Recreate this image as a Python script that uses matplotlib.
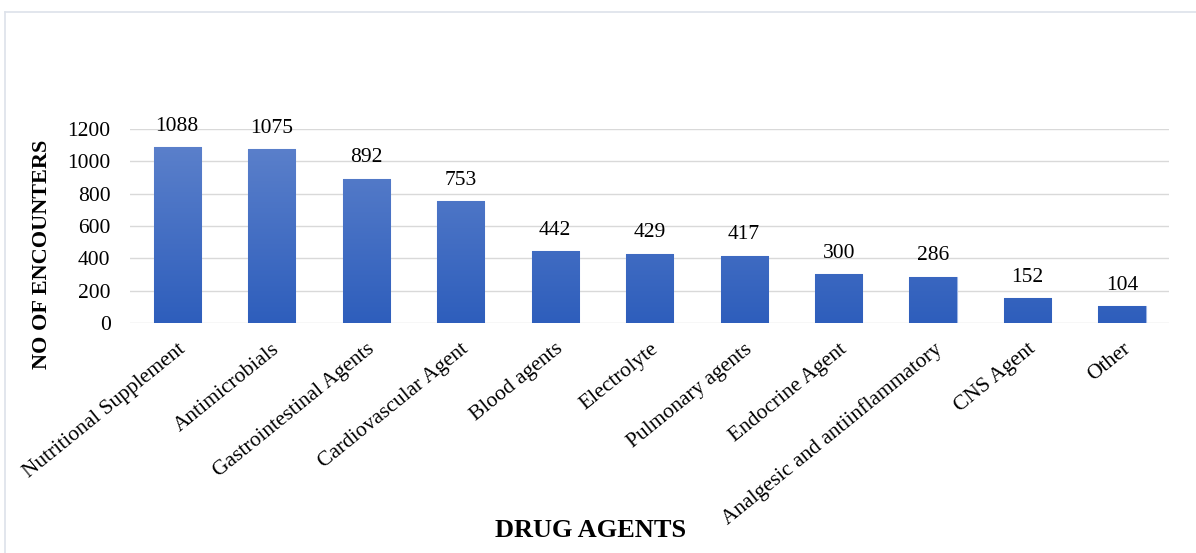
import numpy as np
import matplotlib.pyplot as plt
from matplotlib.colors import LinearSegmentedColormap
from matplotlib.lines import Line2D

categories = ['Nutritional Supplement', 'Antimicrobials', 'Gastrointestinal Agents',
              'Cardiovascular Agent', 'Blood agents', 'Electrolyte', 'Pulmonary agents',
              'Endocrine Agent', 'Analgesic and antiinflammatory', 'CNS Agent', 'Other']
values = [1088, 1075, 892, 753, 442, 429, 417, 300, 286, 152, 104]
yticks = [0, 200, 400, 600, 800, 1000, 1200]

plt.rcParams['font.family'] = ['Liberation Serif', 'DejaVu Serif']

fig = plt.figure(figsize=(11.96, 5.53), dpi=100)
ax = fig.add_axes([0.1087, 0.416, 0.869, 0.351])

x = np.arange(len(categories))
bars = ax.bar(x, values, width=0.5, color='#4472C4', edgecolor='#9DB5E3', linewidth=0.8, zorder=2)

# vertical gradient inside each bar
grad = np.linspace(0, 1, 256).reshape(-1, 1)
cmap = LinearSegmentedColormap.from_list('g', ['#2E5EBC', '#5F83CC'])
for b in bars:
    bx, by = b.get_x(), b.get_y()
    w, h = b.get_width(), b.get_height()
    im = ax.imshow(grad, cmap=cmap, aspect='auto', origin='lower',
                   extent=[bx, bx + w, by, by + 1200], zorder=3)
    im.set_clip_path(b)
    ax.text(bx + w / 2, h + 70, str(int(h)), ha='center', va='bottom', fontsize=15.5, zorder=4)

ax.set_xlim(-0.5, len(categories) - 0.5)
ax.set_ylim(0, 1200)
ax.set_yticks(yticks)
ax.yaxis.grid(True, color='#D9D9D9', linewidth=1, zorder=0)
ax.set_axisbelow(True)
for s in ax.spines.values():
    s.set_visible(False)
ax.tick_params(axis='both', length=0)
ax.tick_params(axis='y', pad=14, labelsize=15.5)
ax.set_xticks(x)
ax.set_xticklabels(categories, rotation=39, ha='right', rotation_mode='anchor', fontsize=15.5)
ax.tick_params(axis='x', pad=12)

fig.text(0.0355, 0.541, 'NO OF ENCOUNTERS', rotation=90, ha='center', va='center',
         fontsize=16, fontweight='bold')
fig.text(0.494, 0.04, 'DRUG AGENTS', ha='center', va='center', fontsize=19, fontweight='bold')

# outer frame (only top and left edges fall inside the picture)
fig.lines.append(Line2D([0.0045, 1.0], [0.978, 0.978], transform=fig.transFigure,
                        color='#DDE2EA', linewidth=1.2))
fig.lines.append(Line2D([0.0045, 0.0045], [0.0, 0.978], transform=fig.transFigure,
                        color='#DDE2EA', linewidth=1.2))

fig.savefig('out.png', dpi=100)
